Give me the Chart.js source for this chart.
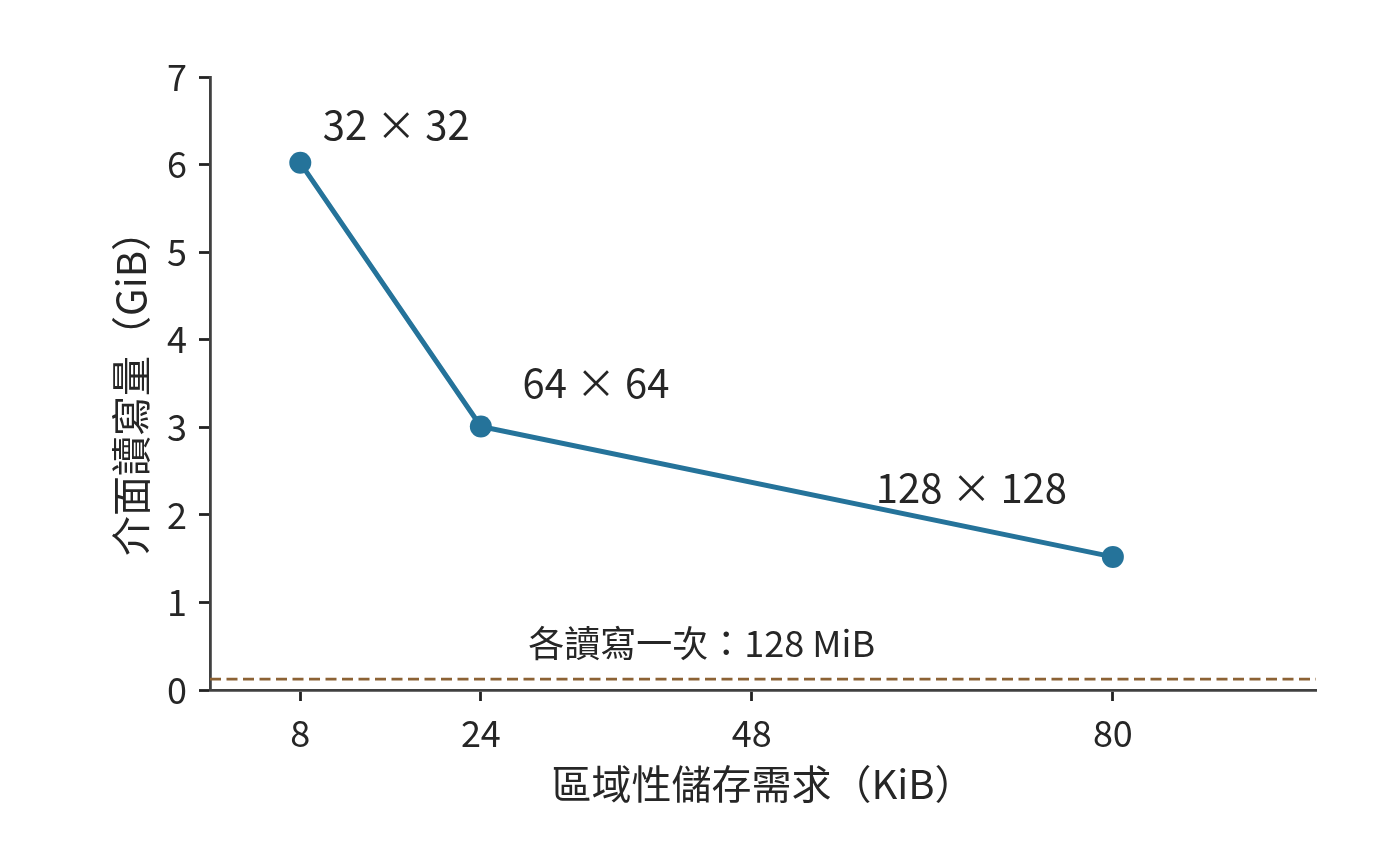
<!DOCTYPE html>
<html>
<head>
<meta charset="utf-8">
<script src="https://cdn.jsdelivr.net/npm/chart.js@4.4.1/dist/chart.umd.min.js"></script>
<style>
  html, body { margin: 0; padding: 0; background: #fff; }
  #wrap { width: 1400px; height: 864px; position: relative; }
</style>
</head>
<body>
<div id="wrap"><canvas id="chart"></canvas></div>
<script>
// data
const regionKiB = [8, 24, 80];
const ioGiB = [6.02, 3.01, 1.52];
const tileLabels = ['32 × 32', '64 × 64', '128 × 128'];
const xTickValues = [8, 24, 48, 80];
const onePassGiB = 0.125;          // 128 MiB
const onePassLabel = '各讀寫一次：128 MiB';

// where each text sits, in data units (left edge, baseline)
const tileLabelAt = [[10.0, 6.28], [27.7, 3.33], [59.0, 2.135]];
const onePassLabelAt = [28.2, 0.377];

const FONT = "'Noto Sans CJK TC', 'Noto Sans CJK SC', sans-serif";
const INK = '#262626';
const BLUE = '#25739a';
const BROWN = '#8c6234';

const textPlugin = {
  id: 'texts',
  afterDatasetsDraw(chart) {
    const { ctx, scales: { x, y } } = chart;
    ctx.save();
    ctx.fillStyle = INK;
    ctx.textAlign = 'left';
    ctx.textBaseline = 'alphabetic';
    ctx.font = `40px ${FONT}`;
    tileLabels.forEach((t, i) => {
      const [ax, ay] = tileLabelAt[i];
      ctx.fillText(t, x.getPixelForValue(ax), y.getPixelForValue(ay));
    });
    ctx.font = `36px ${FONT}`;
    ctx.fillText(onePassLabel, x.getPixelForValue(onePassLabelAt[0]), y.getPixelForValue(onePassLabelAt[1]));
    ctx.restore();
  }
};

const axisGrid = {
  display: true,
  drawOnChartArea: false,
  drawTicks: true,
  tickLength: 11,
  tickWidth: 2.8,
  tickColor: '#222'
};
const axisBorder = { display: true, color: '#404040', width: 2.8 };

new Chart(document.getElementById('chart'), {
  type: 'line',
  data: {
    datasets: [
      {
        data: regionKiB.map((v, i) => ({ x: v, y: ioGiB[i] })),
        borderColor: BLUE,
        backgroundColor: BLUE,
        borderWidth: 5,
        pointRadius: 11,
        pointBorderWidth: 0,
        pointBackgroundColor: BLUE,
        tension: 0,
        clip: false
      },
      {
        data: [{ x: 0, y: onePassGiB }, { x: 98, y: onePassGiB }],
        borderColor: BROWN,
        borderWidth: 2.8,
        borderDash: [11, 5.5],
        pointRadius: 0,
        tension: 0
      }
    ]
  },
  options: {
    responsive: true,
    maintainAspectRatio: false,
    animation: false,
    layout: { padding: { left: 0, top: 77, right: 84, bottom: 0 } },
    plugins: { legend: { display: false }, tooltip: { enabled: false } },
    scales: {
      x: {
        type: 'linear',
        min: 0,
        max: 98,
        afterBuildTicks: s => { s.ticks = xTickValues.map(v => ({ value: v })); },
        afterFit: s => { s.height = 174; },
        grid: axisGrid,
        border: axisBorder,
        ticks: { color: INK, font: { family: FONT, size: 36 }, padding: 11, autoSkip: false, maxRotation: 0 },
        title: { display: true, text: '區域性儲存需求（KiB）', color: INK, font: { family: FONT, size: 40 }, padding: { top: 0, bottom: 56 } }
      },
      y: {
        min: 0,
        max: 7,
        afterFit: s => { s.width = 210; },
        grid: axisGrid,
        border: axisBorder,
        ticks: { stepSize: 1, color: INK, font: { family: FONT, size: 36 }, padding: 12 },
        title: { display: true, text: '介面讀寫量（GiB）', color: INK, font: { family: FONT, size: 40 }, padding: { top: 107, bottom: 0 } }
      }
    }
  },
  plugins: [textPlugin]
});
</script>
</body>
</html>
